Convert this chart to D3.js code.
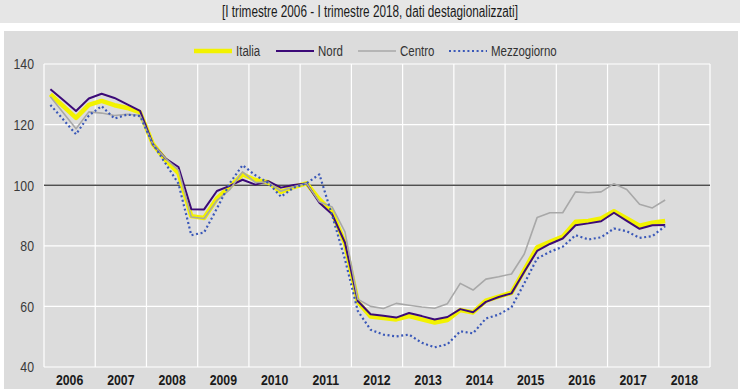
<!DOCTYPE html>
<html>
<head>
<meta charset="utf-8">
<script src="https://cdn.jsdelivr.net/npm/d3@7"></script>
<style>
	body { margin: 0; background: #ffffff; }
	svg { display: block; }
</style>
</head>
<body>
<script>
// anni e trimestri (I trimestre 2006 - I trimestre 2018)
let years = ['2006', '2007', '2008', '2009', '2010', '2011', '2012', '2013', '2014', '2015', '2016', '2017', '2018']
let quarters = ['T1', 'T2', 'T3', 'T4']
let yTicks = [40, 60, 80, 100, 120, 140]

let italia = [130.0, 126.1, 122.2, 126.5, 127.8, 126.4, 125.5, 124.0, 113.6, 108.3, 104.0, 89.8, 89.2,
	95.6, 99.4, 103.6, 101.7, 101.0, 97.8, 99.4, 100.6, 95.3, 91.1, 80.8, 61.5, 56.7, 56.2, 55.7,
	56.8, 55.7, 54.7, 55.5, 58.8, 58.0, 61.9, 63.2, 64.5, 72.0, 79.5, 81.3, 83.0, 87.9, 88.2, 89.0,
	91.4, 89.0, 86.6, 87.6, 88.2]
let nord = [131.7, 128.1, 124.5, 128.6, 130.2, 128.8, 126.7, 124.5, 113.5, 108.8, 106.0, 92.1, 92.0,
	98.1, 99.8, 101.8, 100.2, 101.3, 99.2, 100.1, 100.6, 94.2, 90.4, 81.0, 61.8, 57.4, 56.9, 56.3,
	57.8, 56.8, 55.7, 56.5, 59.1, 58.1, 61.5, 63.1, 64.3, 71.4, 78.3, 80.6, 82.4, 86.8, 87.4, 88.1,
	90.9, 88.2, 85.6, 86.8, 86.9]
let centro = [129.2, 123.9, 118.6, 124.2, 123.8, 123.0, 123.4, 123.1, 113.5, 108.8, 105.0, 89.5, 89.0,
	95.0, 98.5, 104.4, 100.9, 101.0, 98.0, 99.5, 100.6, 94.5, 92.8, 84.6, 62.4, 60.0, 59.3, 61.0,
	60.4, 59.8, 59.4, 60.9, 67.6, 65.4, 69.0, 69.8, 70.7, 77.3, 89.3, 90.9, 90.9, 97.8, 97.5, 97.8,
	100.5, 98.6, 93.7, 92.5, 95.1]
let mezzogiorno = [126.5, 121.7, 116.8, 123.0, 126.1, 122.0, 123.3, 122.8, 113.6, 107.1, 100.5, 83.5, 84.4,
	92.3, 100.6, 106.6, 103.3, 100.8, 96.2, 99.2, 100.6, 103.6, 90.0, 75.5, 58.5, 52.3, 50.7, 50.1,
	50.7, 48.0, 46.5, 47.5, 51.8, 51.1, 56.0, 57.3, 59.7, 67.6, 75.8, 78.0, 79.7, 83.5, 82.1, 82.8,
	85.7, 84.8, 82.6, 83.2, 86.5]

let series = [
	{name: 'Italia', values: italia, color: '#f2f200', width: 4.5, dash: null},
	{name: 'Nord', values: nord, color: '#3c0a78', width: 2, dash: null},
	{name: 'Centro', values: centro, color: '#a8a8a8', width: 1.6, dash: null},
	{name: 'Mezzogiorno', values: mezzogiorno, color: '#3a58b8', width: 2.2, dash: '2,2.6'}
]

let W = 740, H = 389
let font = '"Liberation Sans", Arial, sans-serif'
let narrow = 'scale(0.82,1)'   // niente Arial Narrow installato: si stringe a mano

let svg = d3.select('body').append('svg').attr('width', W).attr('height', H)

// fascia del titolo e pannello
svg.append('rect').attr('x', 0).attr('y', 0).attr('width', W).attr('height', 23).attr('fill', '#e6e6e6')
svg.append('text')
	.attr('x', 370).attr('y', 17)
	.attr('text-anchor', 'middle')
	.attr('font-family', font).attr('font-size', 16)
	.attr('fill', '#1a1a1a')
	.attr('textLength', 296).attr('lengthAdjust', 'spacingAndGlyphs')
	.text('[I trimestre 2006 - I trimestre 2018, dati destagionalizzati]')
svg.append('rect').attr('x', 4).attr('y', 31).attr('width', 734).attr('height', H - 31).attr('fill', '#dcdcdc')

// scale
let allQ = []
years.forEach(y => quarters.forEach(q => allQ.push(y + q)))
let x = d3.scaleBand().domain(allQ).range([44, 710])
let xYear = d3.scaleBand().domain(years).range([44, 710])
let y = d3.scaleLinear().domain([40, 140]).range([367, 64])
let yearEdges = years.map(d => xYear(d)).concat([xYear.range()[1]])

// griglia
let grid = svg.append('g')
grid.selectAll('.hg').data(yTicks).enter().append('line')
	.attr('x1', 44).attr('x2', 710)
	.attr('y1', d => y(d)).attr('y2', d => y(d))
	.attr('stroke', '#ffffff').attr('stroke-width', 1.2)
grid.selectAll('.vg').data(yearEdges).enter().append('line')
	.attr('x1', d => d).attr('x2', d => d)
	.attr('y1', y(140)).attr('y2', y(40))
	.attr('stroke', '#ffffff').attr('stroke-width', 1.2)
svg.append('line')
	.attr('x1', 44).attr('x2', 710)
	.attr('y1', y(100)).attr('y2', y(100))
	.attr('stroke', '#505050').attr('stroke-width', 1.4)

// assi
let yAxis = svg.append('g').attr('transform', 'translate(34,0)')
	.call(d3.axisLeft(y).tickValues(yTicks).tickSize(0).tickPadding(0))
yAxis.select('.domain').remove()
yAxis.selectAll('text').attr('font-family', font).attr('font-size', 15)
	.attr('fill', '#3a3a3a').attr('transform', narrow)

let xAxis = svg.append('g').attr('transform', 'translate(0,' + 374 + ')')
	.call(d3.axisBottom(xYear).tickSize(0).tickPadding(0))
xAxis.select('.domain').remove()
xAxis.selectAll('text').attr('font-family', font).attr('font-size', 15)
	.attr('font-weight', 'bold').attr('fill', '#1a1a1a').attr('transform', narrow)

// linee
let line = d3.line()
	.x((d, i) => x(allQ[i]) + x.bandwidth() / 2)
	.y(d => y(d))

series.forEach(s => {
	svg.append('path')
		.attr('d', line(s.values))
		.attr('fill', 'none')
		.attr('stroke', s.color)
		.attr('stroke-width', s.width)
		.attr('stroke-dasharray', s.dash)
		.attr('stroke-linejoin', 'round')
})

// legenda
let legendX = [194, 276, 358, 449]
let leg = svg.append('g')
series.forEach((s, i) => {
	leg.append('line')
		.attr('x1', legendX[i]).attr('x2', legendX[i] + 38)
		.attr('y1', 51).attr('y2', 51)
		.attr('stroke', s.color)
		.attr('stroke-width', s.width)
		.attr('stroke-dasharray', s.dash)
	leg.append('text')
		.attr('transform', `translate(${legendX[i] + 42},56) ${narrow}`)
		.attr('font-family', font).attr('font-size', 14)
		.attr('fill', '#333333')
		.text(s.name)
})
</script>
</body>
</html>
